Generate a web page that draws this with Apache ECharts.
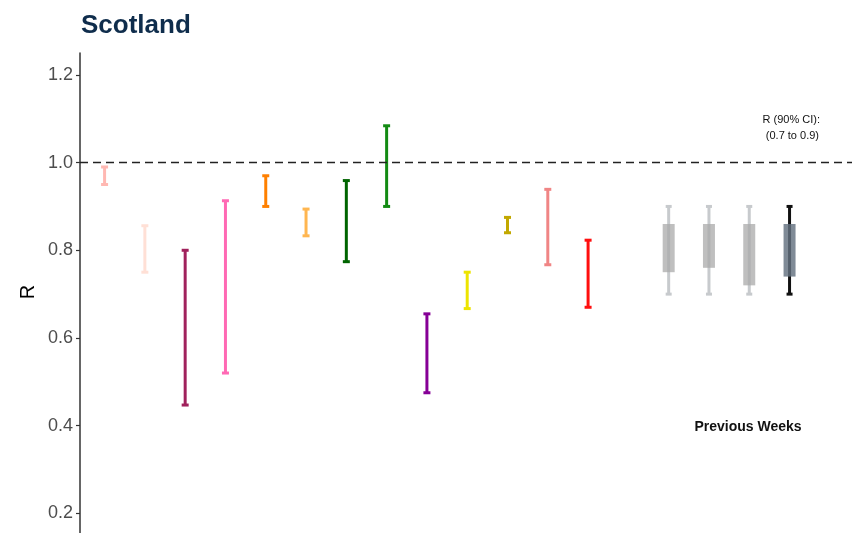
<!DOCTYPE html>
<html>
<head>
<meta charset="utf-8">
<script src="https://cdn.jsdelivr.net/npm/echarts@6/dist/echarts.min.js"></script>
<style>
  html, body { margin: 0; padding: 0; background: #fff; }
  #chart { width: 852px; height: 533px; }
</style>
</head>
<body>
<div id="chart"></div>
<script>
// Regional R estimates (90% CI), one interval per region
const regionLower = [0.95, 0.75, 0.447, 0.52, 0.90, 0.833, 0.774, 0.90, 0.475, 0.667, 0.84, 0.767, 0.67];
const regionUpper = [0.99, 0.856, 0.80, 0.913, 0.97, 0.894, 0.959, 1.084, 0.655, 0.75, 0.875, 0.939, 0.823];
const regionColors = ['#ffb8b2', '#ffe0d6', '#a0215c', '#ff69b4', '#ff8000', '#ffb650',
                      '#006400', '#138b13', '#860096', '#ede400', '#c2a800', '#f08585', '#ff0f0f'];

// Scotland-wide estimates for previous weeks: whisker range and box range
const prevLower = [0.70, 0.70, 0.70, 0.70];
const prevUpper = [0.90, 0.90, 0.90, 0.90];
const prevBoxLow = [0.75, 0.76, 0.72, 0.74];
const prevBoxHigh = [0.86, 0.86, 0.86, 0.86];

// y axis ticks
const yTicks = [0.2, 0.4, 0.6, 0.8, 1.0, 1.2];
const refLine = 1.0;

// slot index along x: regions first, one empty slot, then previous weeks
const prevStart = regionLower.length + 1;

const chart = echarts.init(document.getElementById('chart'), null, { renderer: 'canvas' });
const FONT = 'Liberation Sans, Arial, sans-serif';

const regionData = regionLower.map((lo, i) => ({
  value: [i, lo, regionUpper[i]],
  itemStyle: { color: regionColors[i] }
}));

const prevData = prevLower.map((lo, i) => ({
  value: [prevStart + i, lo, prevUpper[i], prevBoxLow[i], prevBoxHigh[i]],
  latest: i === prevLower.length - 1
}));

function renderErrorBar(params, api) {
  const x = api.value(0);
  const top = api.coord([x, api.value(2)]);
  const bot = api.coord([x, api.value(1)]);
  const color = api.visual('color');
  return {
    type: 'group',
    children: [
      { type: 'rect', shape: { x: top[0] - 1.5, y: top[1], width: 3, height: bot[1] - top[1] }, style: { fill: color } },
      { type: 'rect', shape: { x: top[0] - 3.5, y: top[1] - 1.5, width: 7, height: 3 }, style: { fill: color } },
      { type: 'rect', shape: { x: bot[0] - 3.5, y: bot[1] - 1.5, width: 7, height: 3 }, style: { fill: color } }
    ]
  };
}

function renderPrevWeek(params, api) {
  const x = api.value(0);
  const latest = prevData[params.dataIndex].latest;
  const wTop = api.coord([x, api.value(2)]);
  const wBot = api.coord([x, api.value(1)]);
  const bTop = api.coord([x, api.value(4)]);
  const bBot = api.coord([x, api.value(3)]);
  const wColor = latest ? '#111111' : '#c7cacd';
  const bColor = latest ? 'rgba(100,114,128,0.82)' : 'rgba(170,170,170,0.75)';
  return {
    type: 'group',
    children: [
      { type: 'rect', shape: { x: wTop[0] - 1.5, y: wTop[1], width: 3, height: wBot[1] - wTop[1] }, style: { fill: wColor } },
      { type: 'rect', shape: { x: wTop[0] - 3, y: wTop[1] - 1.5, width: 6, height: 3 }, style: { fill: wColor } },
      { type: 'rect', shape: { x: wBot[0] - 3, y: wBot[1] - 1.5, width: 6, height: 3 }, style: { fill: wColor } },
      { type: 'rect', shape: { x: bTop[0] - 6, y: bTop[1], width: 12, height: bBot[1] - bTop[1] }, style: { fill: bColor } }
    ]
  };
}

const option = {
  animation: false,
  backgroundColor: '#ffffff',
  title: {
    text: 'Scotland',
    left: 76,
    top: 8,
    textStyle: { fontFamily: FONT, fontSize: 26, fontWeight: 'bold', color: '#0f2d4c' }
  },
  grid: { left: 80, top: 53, right: 0, height: 548, containLabel: false, outerBoundsMode: 'none' },
  xAxis: {
    type: 'value',
    min: -0.61,
    max: 18.55,
    show: false
  },
  yAxis: {
    type: 'value',
    min: 0,
    max: 1.25,
    splitLine: { show: false },
    axisLine: { show: true, onZero: false, lineStyle: { color: '#333333', width: 1.5 } },
    axisTick: { show: true, length: 4, customValues: yTicks, lineStyle: { color: '#333333', width: 1.2 } },
    axisLabel: {
      customValues: yTicks,
      margin: 7,
      fontFamily: FONT,
      fontSize: 18,
      color: '#4d4d4d',
      formatter: v => v.toFixed(1)
    }
  },
  graphic: [
    {
      type: 'text', rotation: Math.PI / 2,
      style: { text: 'R', font: '20px ' + FONT, fill: '#000000', align: 'center', verticalAlign: 'middle' },
      x: 28, y: 292
    },
    {
      type: 'text', x: 820, y: 120,
      style: { text: 'R (90% CI):', font: '11px ' + FONT, fill: '#111111', align: 'right', verticalAlign: 'middle' }
    },
    {
      type: 'text', x: 819, y: 136,
      style: { text: '(0.7 to 0.9)', font: '11px ' + FONT, fill: '#111111', align: 'right', verticalAlign: 'middle' }
    },
    {
      type: 'text', x: 748, y: 427,
      style: { text: 'Previous Weeks', font: 'bold 14px ' + FONT, fill: '#111111', align: 'center', verticalAlign: 'middle' }
    }
  ],
  series: [
    {
      type: 'custom',
      name: 'regions',
      renderItem: renderErrorBar,
      encode: { x: 0, y: [1, 2] },
      data: regionData,
      z: 3,
      markLine: {
        silent: true,
        symbol: 'none',
        label: { show: false },
        lineStyle: { type: [8, 5], color: '#222222', width: 1.3 },
        data: [{ yAxis: refLine }]
      }
    },
    {
      type: 'custom',
      name: 'previous weeks',
      renderItem: renderPrevWeek,
      encode: { x: 0, y: [1, 2] },
      data: prevData,
      z: 3
    }
  ]
};

chart.setOption(option);
</script>
</body>
</html>
